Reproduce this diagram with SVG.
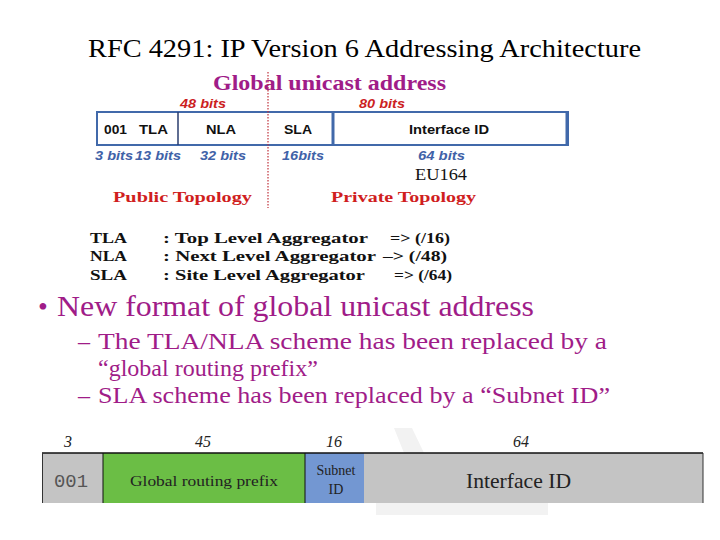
<svg xmlns="http://www.w3.org/2000/svg" width="720" height="540" viewBox="0 0 720 540">
<style>
.ser{font-family:"Liberation Serif","Times New Roman",serif}
.san{font-family:"Liberation Sans",Arial,sans-serif}
.title{font-size:26px;fill:#000}
.mag{fill:#A01C88}
.red{fill:#CC1F1F;font-weight:bold;font-style:italic;font-size:13px}
.blu{fill:#3F62A8;font-weight:bold;font-style:italic;font-size:13px}
.cell{font-size:13.5px;font-weight:bold;fill:#111}
.topo{font-size:15px;font-weight:bold;fill:#D01E1E}
.def{font-size:15px;font-weight:bold;fill:#111}
.num{font-size:16px;font-style:italic;fill:#222}
</style>
<rect width="720" height="540" fill="#fff"/>
<text class="ser title" x="88" y="57" textLength="553" lengthAdjust="spacingAndGlyphs">RFC 4291: IP Version 6 Addressing Architecture</text>
<text class="ser mag" x="213" y="90" font-size="22" font-weight="bold" textLength="233" lengthAdjust="spacingAndGlyphs">Global unicast address</text>

<g id="old-format">
<text class="san red" x="180" y="108" textLength="46" lengthAdjust="spacingAndGlyphs">48 bits</text>
<text class="san red" x="359" y="108" textLength="46" lengthAdjust="spacingAndGlyphs">80 bits</text>
<rect x="97" y="112" width="471" height="33" fill="#fff" stroke="#4169AA" stroke-width="2"/>
<line x1="178" y1="112" x2="178" y2="145" stroke="#2A3D6E" stroke-width="1.5"/>
<line x1="333" y1="112" x2="333" y2="145" stroke="#4169AA" stroke-width="3"/>
<line x1="567" y1="112" x2="567" y2="145" stroke="#4169AA" stroke-width="3"/>
<text class="san cell" x="104" y="134" textLength="23" lengthAdjust="spacingAndGlyphs">001</text>
<text class="san cell" x="139" y="134" textLength="29" lengthAdjust="spacingAndGlyphs">TLA</text>
<text class="san cell" x="206" y="134" textLength="30" lengthAdjust="spacingAndGlyphs">NLA</text>
<text class="san cell" x="284" y="134" textLength="28" lengthAdjust="spacingAndGlyphs">SLA</text>
<text class="san cell" x="409" y="134" textLength="80" lengthAdjust="spacingAndGlyphs">Interface ID</text>
<text class="san blu" x="95" y="160" textLength="38" lengthAdjust="spacingAndGlyphs">3 bits</text>
<text class="san blu" x="135" y="160" textLength="46" lengthAdjust="spacingAndGlyphs">13 bits</text>
<text class="san blu" x="200" y="160" textLength="46" lengthAdjust="spacingAndGlyphs">32 bits</text>
<text class="san blu" x="282" y="160" textLength="42" lengthAdjust="spacingAndGlyphs">16bits</text>
<text class="san blu" x="418" y="160" textLength="47" lengthAdjust="spacingAndGlyphs">64 bits</text>
<text class="ser" x="415" y="180" font-size="17" fill="#111" textLength="52" lengthAdjust="spacingAndGlyphs">EU164</text>
<text class="ser topo" x="113" y="202" textLength="139" lengthAdjust="spacingAndGlyphs">Public Topology</text>
<text class="ser topo" x="331" y="202" textLength="145" lengthAdjust="spacingAndGlyphs">Private Topology</text>
<line x1="268" y1="72" x2="268" y2="208" stroke="#C0303A" stroke-width="1.2" stroke-dasharray="1.5,1.5"/>
</g>

<g id="definitions">
<text class="ser def" x="90" y="243" textLength="37" lengthAdjust="spacingAndGlyphs">TLA</text>
<text class="ser def" x="163" y="243" textLength="205" lengthAdjust="spacingAndGlyphs">: Top Level Aggregator</text>
<text class="ser def" x="390" y="243" textLength="60" lengthAdjust="spacingAndGlyphs">=&gt; (/16)</text>
<text class="ser def" x="90" y="261" textLength="37" lengthAdjust="spacingAndGlyphs">NLA</text>
<text class="ser def" x="163" y="261" textLength="213" lengthAdjust="spacingAndGlyphs">: Next Level Aggregator</text>
<text class="ser def" x="383" y="261" textLength="64" lengthAdjust="spacingAndGlyphs">–&gt; (/48)</text>
<text class="ser def" x="90" y="280" textLength="37" lengthAdjust="spacingAndGlyphs">SLA</text>
<text class="ser def" x="163" y="280" textLength="202" lengthAdjust="spacingAndGlyphs">: Site Level Aggregator</text>
<text class="ser def" x="394" y="280" textLength="58" lengthAdjust="spacingAndGlyphs">=&gt; (/64)</text>
</g>

<g id="bullets">
<text class="ser mag" x="38" y="316" font-size="28">•</text>
<text class="ser mag" x="57" y="316" font-size="30" textLength="477" lengthAdjust="spacingAndGlyphs">New format of global unicast address</text>
<text class="ser mag" x="78" y="349" font-size="24">–</text>
<text class="ser mag" x="98" y="349" font-size="24" textLength="509" lengthAdjust="spacingAndGlyphs">The TLA/NLA scheme has been replaced by a</text>
<text class="ser mag" x="98" y="376" font-size="24">“global routing prefix”</text>
<text class="ser mag" x="78" y="403" font-size="24">–</text>
<text class="ser mag" x="98" y="403" font-size="24" textLength="512" lengthAdjust="spacingAndGlyphs">SLA scheme has been replaced by a “Subnet ID”</text>
</g>

<g id="watermark" fill="#F2F2F2">
<polygon points="394,428 412,428 424,453 404,453"/>
<rect x="376" y="503" width="172" height="12"/>
</g>

<g id="new-format">
<text class="ser num" x="68" y="447" text-anchor="middle">3</text>
<text class="ser num" x="203" y="447" text-anchor="middle">45</text>
<text class="ser num" x="334" y="447" text-anchor="middle">16</text>
<text class="ser num" x="521" y="447" text-anchor="middle">64</text>
<rect x="42" y="453" width="61" height="50" fill="#C4C4C4"/>
<rect x="103" y="453" width="202" height="50" fill="#6BBE45"/>
<rect x="305" y="453" width="59" height="50" fill="#7397D2"/>
<rect x="364" y="453" width="339" height="50" fill="#C4C4C4"/>
<line x1="42" y1="453" x2="703" y2="453" stroke="#111" stroke-width="1.5"/>
<line x1="42.5" y1="453" x2="42.5" y2="503" stroke="#333" stroke-width="1"/>
<line x1="103" y1="453" x2="103" y2="503" stroke="#111" stroke-width="1"/>
<line x1="305" y1="453" x2="305" y2="503" stroke="#111" stroke-width="1"/>
<line x1="703" y1="453" x2="703" y2="503" stroke="#333" stroke-width="1"/>
<text x="54" y="487" font-family="'Liberation Mono','Courier New',monospace" font-size="18" fill="#555" textLength="34" lengthAdjust="spacingAndGlyphs">001</text>
<text class="ser" x="130" y="486" font-size="15" fill="#222" textLength="148" lengthAdjust="spacingAndGlyphs">Global routing prefix</text>
<text class="ser" x="336" y="475" text-anchor="middle" font-size="14" fill="#222">Subnet</text>
<text class="ser" x="336" y="494" text-anchor="middle" font-size="14" fill="#222">ID</text>
<text class="ser" x="466" y="488" font-size="21" fill="#222" textLength="105" lengthAdjust="spacingAndGlyphs">Interface ID</text>
</g>
</svg>
